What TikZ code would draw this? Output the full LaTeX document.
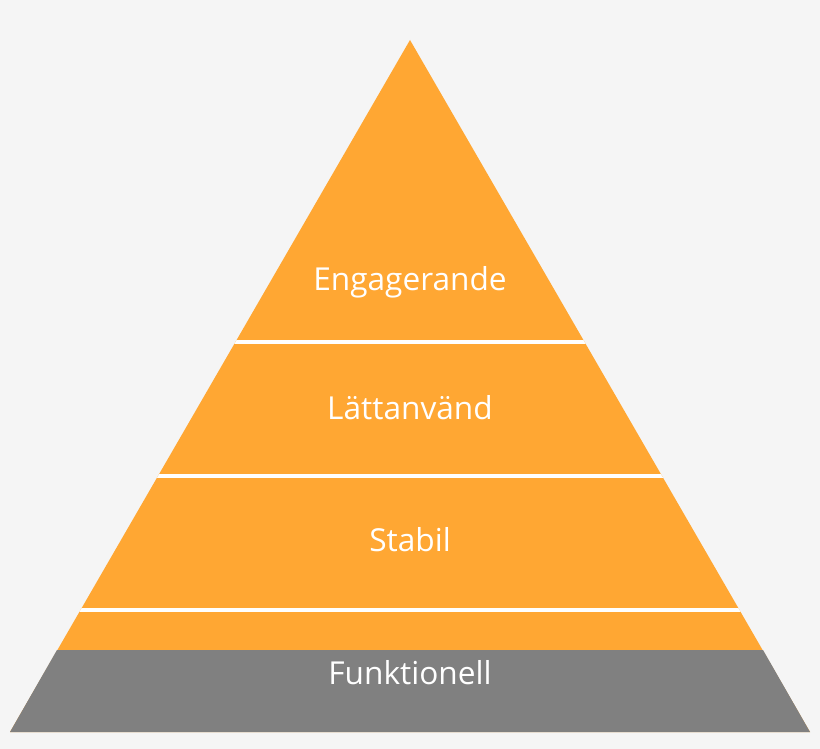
\documentclass[tikz,border=0pt]{standalone}
\usepackage{fontspec}
\setmainfont{Open Sans}
\definecolor{bgcol}{HTML}{F5F5F5}
\definecolor{pyrorange}{HTML}{FFA733}
\definecolor{pyrgray}{HTML}{808080}
\tikzset{
  level/.style={text=white, font=\fontsize{18}{20}\selectfont},
  sep/.style={white, line width=2.3pt}
}
\begin{document}
\begin{tikzpicture}[x=0.02cm, y=-0.02cm]
    \fill[bgcol] (0,0) rectangle (820,749);
    \useasboundingbox (0,0) rectangle (820,749);

    \coordinate (top) at (410,40);
    \coordinate (bl) at (10,732);
    \coordinate (br) at (810,732);

    \fill[pyrorange] (top) -- (br) -- (bl) -- cycle;
    \fill[pyrgray] (57,650) -- (763,650) -- (br) -- (bl) -- cycle;

    \begin{scope}
        \clip (top) -- (br) -- (bl) -- cycle;
        \draw[sep] (0,342) -- (820,342);
        \draw[sep] (0,476) -- (820,476);
        \draw[sep] (0,610) -- (820,610);
    \end{scope}

    \node[level] (engagerande) at (410,282) {Engagerande};
    \node[level] (lattanvand) at (410,408) {Lättanvänd};
    \node[level] (stabil) at (410,540) {Stabil};
    \node[level] (funktionell) at (410,673) {Funktionell};
\end{tikzpicture}
\end{document}
